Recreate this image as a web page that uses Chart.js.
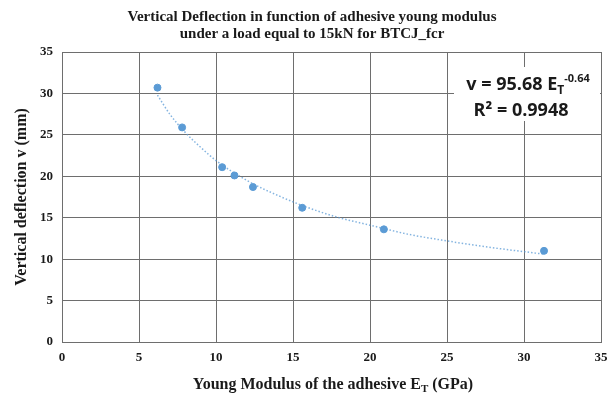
<!DOCTYPE html>
<html>
<head>
<meta charset="utf-8">
<script src="https://cdn.jsdelivr.net/npm/chart.js@4"></script>
<style>
  html, body { margin: 0; padding: 0; background: #fff; }
  #wrap { width: 610px; height: 397px; }
</style>
</head>
<body>
<div id="wrap"><canvas id="chart" width="610" height="397"></canvas></div>
<script>
// measured points (E_T in GPa, deflection in mm)
var modulus = [6.2, 7.8, 10.4, 11.2, 12.4, 15.6, 20.9, 31.3];
var deflection = [30.7, 25.9, 21.1, 20.1, 18.7, 16.2, 13.6, 11.0];

// dotted power trendline
var trendX = [6.2, 7, 8, 9, 10, 12, 14, 16, 18, 20, 22.5, 25, 27.5, 31.3];
var trendY = [29.8, 27.5, 25.3, 23.5, 21.9, 19.5, 17.7, 16.2, 15.0, 14.1, 13.0, 12.2, 11.5, 10.6];

var xTicks = [0, 5, 10, 15, 20, 25, 30, 35];
var yTicks = [0, 5, 10, 15, 20, 25, 30, 35];

var blue = '#5B9BD5';
var serif = '"Liberation Serif", "Times New Roman", serif';
var sans = '"Open Sans", "Noto Sans", sans-serif';
var tickFont = { family: serif, size: 13, weight: 'bold' };

function drawRuns(c, runs, x, y, align) {
  // runs: [text, size, dy, family]
  var total = 0;
  runs.forEach(function(r) {
    c.font = 'bold ' + r[1] + 'px ' + r[3];
    total += c.measureText(r[0]).width;
  });
  var cx = align === 'center' ? x - total / 2 : x;
  c.textAlign = 'left';
  c.textBaseline = 'alphabetic';
  runs.forEach(function(r) {
    c.font = 'bold ' + r[1] + 'px ' + r[3];
    c.fillText(r[0], cx, y + r[2]);
    cx += c.measureText(r[0]).width;
  });
}

var labelsPlugin = {
  id: 'labels',
  afterDraw: function(chart) {
    var c = chart.ctx;
    var a = chart.chartArea;
    c.save();
    c.fillStyle = '#1a1a1a';
    // title
    c.font = 'bold 15px ' + serif;
    c.textAlign = 'center';
    c.textBaseline = 'middle';
    c.fillText('Vertical Deflection in function of adhesive young modulus', 312, 17);
    c.fillText('under a load equal to 15kN for BTCJ_fcr', 312, 34);

    // x title with subscript
    drawRuns(c, [
      ['Young Modulus of the adhesive E', 16, 0, serif],
      ['T', 11, 3, serif],
      [' (GPa)', 16, 0, serif]
    ], 333, 389, 'center');

    // y title
    c.translate(22, (a.top + a.bottom) / 2);
    c.rotate(-Math.PI / 2);
    c.font = 'bold 16px ' + serif;
    c.textAlign = 'center';
    c.textBaseline = 'middle';
    c.fillText('Vertical deflection v (mm)', 0, 0);
    c.restore();

    // equation box
    c.save();
    c.fillStyle = '#fff';
    c.fillRect(454, 67, 146, 54);
    c.fillStyle = '#1a1a1a';
    drawRuns(c, [
      ['v = 95.68 E', 18, 0, sans],
      ['T', 12, 4, sans],
      ['-0.64', 11, -8, sans]
    ], 528, 90, 'center');
    drawRuns(c, [
      ['R\u00B2 = 0.9948', 18, 0, sans]
    ], 521, 116, 'center');
    c.restore();
  }
};

new Chart(document.getElementById('chart'), {
  type: 'scatter',
  data: {
    datasets: [{
      data: trendX.map(function(x, i) { return { x: x, y: trendY[i] }; }),
      showLine: true,
      borderColor: 'rgba(91,155,213,0.75)',
      borderWidth: 1.5,
      borderDash: [1.5, 2],
      pointRadius: 0,
      cubicInterpolationMode: 'monotone',
      fill: false,
      order: 2
    }, {
      data: modulus.map(function(x, i) { return { x: x, y: deflection[i] }; }),
      backgroundColor: blue,
      borderColor: blue,
      pointRadius: 3.5,
      pointHoverRadius: 3.5,
      order: 1
    }]
  },
  options: {
    responsive: false,
    animation: false,
    layout: { padding: { top: 52, right: 0, left: 0, bottom: 0 } },
    plugins: { legend: { display: false }, tooltip: { enabled: false } },
    scales: {
      x: {
        type: 'linear',
        min: 0, max: 35,
        afterBuildTicks: function(s) { s.ticks = xTicks.map(function(v) { return { value: v }; }); },
        afterFit: function(s) { s.height = 55; s.paddingRight = 9; },
        grid: { color: '#6e6e6e', lineWidth: 1, drawTicks: false },
        border: { color: '#6e6e6e' },
        ticks: { font: tickFont, color: '#1a1a1a', padding: 8, maxRotation: 0 }
      },
      y: {
        type: 'linear',
        min: 0, max: 35,
        afterBuildTicks: function(s) { s.ticks = yTicks.map(function(v) { return { value: v }; }); },
        afterFit: function(s) { s.width = 62; },
        grid: { color: '#6e6e6e', lineWidth: 1, drawTicks: false },
        border: { color: '#6e6e6e' },
        ticks: { font: tickFont, color: '#1a1a1a', padding: 9 }
      }
    }
  },
  plugins: [labelsPlugin]
});
</script>
</body>
</html>
